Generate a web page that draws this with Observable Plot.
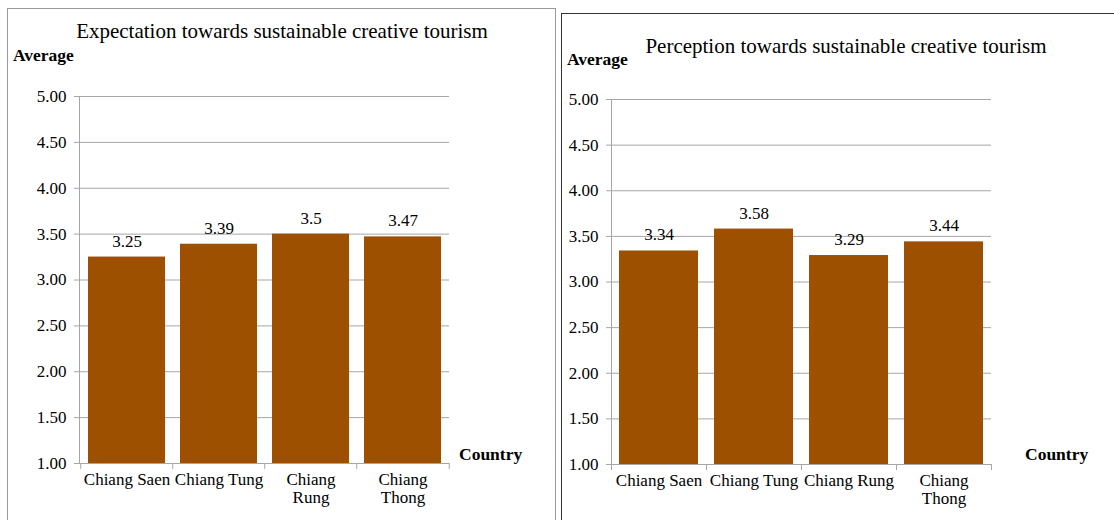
<!DOCTYPE html>
<html>
<head>
<meta charset="utf-8">
<script src="https://cdn.jsdelivr.net/npm/d3@7"></script>
<script src="https://cdn.jsdelivr.net/npm/@observablehq/plot@0.6"></script>
<style>
  body { margin: 0; background: #fff; }
  #wrap { position: relative; width: 1114px; height: 520px; overflow: hidden; font-family: "Liberation Serif", "Times New Roman", serif; color: #000; }
  .abs { position: absolute; white-space: nowrap; }
  .title { font-size: 21px; transform: translate(-50%, -50%); }
  .lab { font-size: 17.5px; font-weight: bold; transform: translateY(-50%); }
  .panelL { position: absolute; left: 7px; top: 8px; width: 549px; height: 530px; border: 1px solid #9a9a9a; box-sizing: border-box; }
  .panelR { position: absolute; left: 561px; top: 13px; width: 560px; height: 530px; border: 1px solid #333; box-sizing: border-box; }
  svg { position: absolute; top: 0; }
  svg, svg text, svg g { font-family: "Liberation Serif", "Times New Roman", serif !important; }
</style>
</head>
<body>
<div id="wrap">
  <div class="panelL"></div>
  <div class="panelR"></div>
</div>
<script>
const categories = ["Chiang Saen", "Chiang Tung", "Chiang Rung", "Chiang Thong"];
const expectationValues = [3.25, 3.39, 3.5, 3.47];
const perceptionValues = [3.34, 3.58, 3.29, 3.44];
const expectationLabels = ["Chiang Saen", "Chiang Tung", "Chiang\nRung", "Chiang\nThong"];
const perceptionLabels = ["Chiang Saen", "Chiang Tung", "Chiang Rung", "Chiang\nThong"];
const yTicks = [1, 1.5, 2, 2.5, 3, 3.5, 4, 4.5, 5];
const titles = ["Expectation towards sustainable creative tourism", "Perception towards sustainable creative tourism"];
const yLabel = "Average";
const xLabel = "Country";

const BAR = "#9d5000";
const GRID = "#a6a6a6";
const FONT = '"Liberation Serif", "Times New Roman", serif';

function panel(values, labels, cfg) {
  const data = categories.map((c, i) => ({category: c, value: values[i]}));
  const labelOf = Object.fromEntries(categories.map((c, i) => [c, labels[i]]));
  const step = (cfg.width - cfg.ml - cfg.mr) / categories.length;
  const chart = Plot.plot({
    width: cfg.width,
    height: 520,
    marginLeft: cfg.ml,
    marginRight: cfg.mr,
    marginTop: cfg.mt,
    marginBottom: cfg.mb,
    style: {fontFamily: FONT, fontSize: "17px", color: "#000", background: "transparent"},
    x: {domain: categories, paddingInner: cfg.pad, paddingOuter: cfg.pad / 2, label: null},
    y: {domain: [1, 5], label: null},
    marks: [
      Plot.ruleY(yTicks, {y: d => d, stroke: GRID, strokeWidth: 1, insetLeft: -5}),
      Plot.barY(data, {x: "category", y1: 1, y2: "value", fill: BAR}),
      Plot.frame({anchor: "left", stroke: GRID}),
      Plot.ruleX(categories, {x: d => d, y1: 1, y2: 1, insetBottom: -6, dx: -step / 2, stroke: GRID}),
      Plot.ruleX([categories[categories.length - 1]], {x: d => d, y1: 1, y2: 1, insetBottom: -6, dx: step / 2, stroke: GRID}),
      Plot.axisY({ticks: yTicks, tickFormat: d3.format(".2f"), tickSize: 0, tickPadding: 13, fontSize: 17, fontFamily: FONT, fill: "#000"}),
      Plot.axisX({tickSize: 0, tickPadding: 8, tickFormat: d => labelOf[d], fontSize: 17, fontFamily: FONT, lineHeight: 1.1, fill: "#000"}),
      Plot.text(data, {x: "category", y: "value", text: d => String(d.value), dy: -16, fontSize: 17, fontFamily: FONT, fill: "#000"})
    ]
  });
  chart.style.left = cfg.left + "px";
  chart.style.fontFamily = FONT;
  return chart;
}

const wrap = document.getElementById("wrap");
const left = panel(expectationValues, expectationLabels, {left: 0, width: 556, ml: 79, mr: 107, mt: 96, mb: 57, pad: 0.167});
const right = panel(perceptionValues, perceptionLabels, {left: 556, width: 558, ml: 55, mr: 123, mt: 99, mb: 56, pad: 0.168});
wrap.appendChild(left);
wrap.appendChild(right);

function addText(cls, text, x, y) {
  const d = document.createElement("div");
  d.className = "abs " + cls;
  d.textContent = text;
  d.style.left = x + "px";
  d.style.top = y + "px";
  wrap.appendChild(d);
}
addText("title", titles[0], 282, 31);
addText("title", titles[1], 846, 46);
addText("lab", yLabel, 13, 55);
addText("lab", yLabel, 567, 59);
addText("lab", xLabel, 459, 454);
addText("lab", xLabel, 1025, 454);
</script>
</body>
</html>
